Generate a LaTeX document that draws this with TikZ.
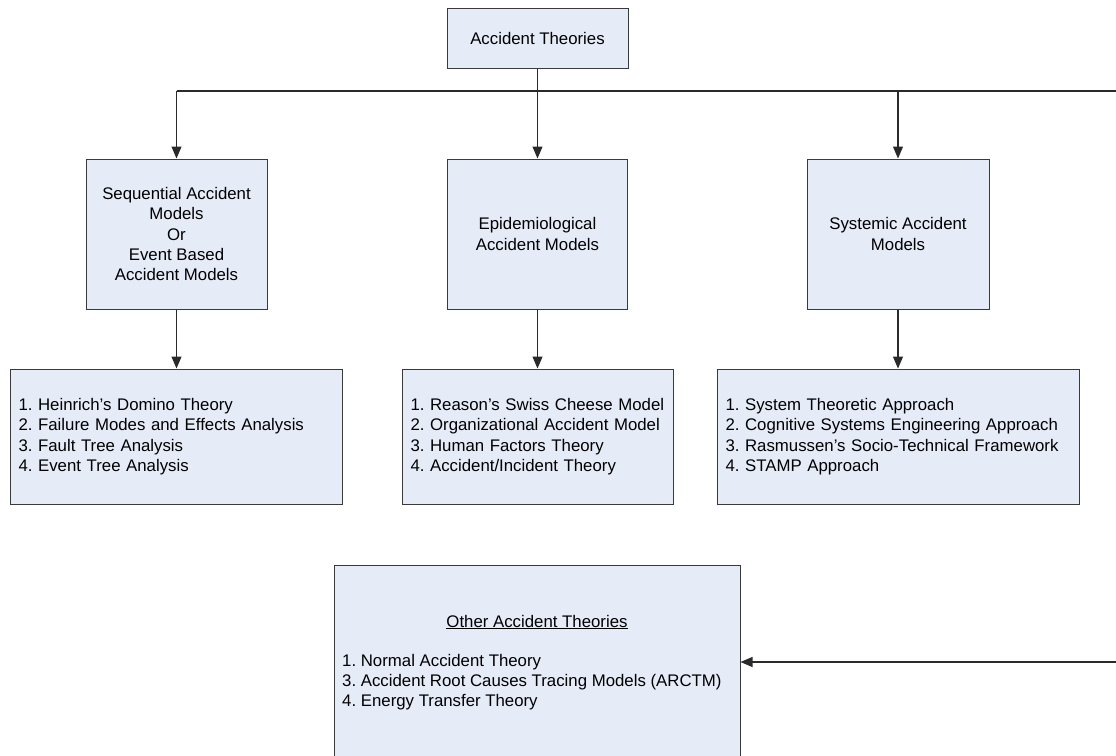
\documentclass[tikz,border=0pt]{standalone}
\usepackage{fontspec}
\setmainfont{Liberation Sans}
\usetikzlibrary{arrows.meta}
\definecolor{boxfill}{HTML}{E6ECF7}
\definecolor{boxline}{HTML}{3A3A3A}
\definecolor{wire}{HTML}{2A2A2A}
\frenchspacing

\begin{document}
\begin{tikzpicture}[x=1pt,y=-1pt,
  txt/.style={font=\fontsize{16.8}{20.3}\selectfont\frenchspacing},
  box/.style={draw=boxline, fill=boxfill, line width=1pt, inner sep=0pt,
    txt, align=center},
  listbox/.style={draw=boxline, fill=boxfill, line width=1pt, inner xsep=8.5pt,
    inner ysep=0pt, txt, align=left, minimum height=135pt},
  wireline/.style={draw=wire, line width=1.1pt},
  arr/.style={wireline, -{Triangle[length=12pt,width=10pt]}}]

\path[use as bounding box] (0,0) rectangle (1116,755);
\clip (0,0) rectangle (1116,755);

% root
\node[box, minimum width=181pt, minimum height=60pt] (root) at (537.5,38.5) {Accident Theories};

% model families
\node[box, minimum width=181pt, minimum height=150pt] (seq) at (176.5,234)
  {Sequential Accident\\Models\\Or\\Event Based\\Accident Models};
\node[box, minimum width=180pt, minimum height=150pt] (epi) at (537.5,234)
  {Epidemiological\\Accident Models};
\node[box, minimum width=182pt, minimum height=150pt] (sys) at (898,234)
  {Systemic Accident\\Models};

% lists of models
\node[listbox, text width=315pt] (seqlist) at (176,436.5)
  {1. Heinrich’s Domino Theory\\2. Failure Modes and Effects Analysis\\3. Fault Tree Analysis\\4. Event Tree Analysis};
\node[listbox, text width=254pt] (epilist) at (537.5,436.5)
  {\mbox{1. Reason’s Swiss Cheese Model}\\\mbox{2. Organizational Accident Model}\\3. Human Factors Theory\\4. Accident/Incident Theory};
\node[listbox, text width=345pt] (syslist) at (898,436.5)
  {1. System Theoretic Approach\\2. Cognitive Systems Engineering Approach\\3. Rasmussen’s Socio-Technical Framework\\4. STAMP Approach};

% other theories
\node[box, minimum width=406pt, minimum height=194pt] (other) at (537,662) {};
\node[txt, inner sep=0pt] (othertitle) at (537,622) {\underline{Other Accident Theories}};
\node[txt, inner sep=0pt, align=left, anchor=west] (otherlist) at (342,682)
  {1. Normal Accident Theory\\3. Accident Root Causes Tracing Models (ARCTM)\\4. Energy Transfer Theory};

% bus coordinates
\coordinate (busleft) at (176.5,91);
\coordinate (busright) at (1119,91);
\coordinate (loopcorner) at (1119,662);

% connectors
\draw[wireline] (busleft) -- (busright);
\draw[arr] (root.south) -- (epi.north);
\draw[arr] (busleft) -- (seq.north);
\draw[arr] (sys.north |- busright) -- (sys.north);
\draw[arr] (busright) -- (loopcorner) -- (other.east);
\draw[arr] (seq.south) -- (seq.south |- seqlist.north);
\draw[arr] (epi.south) -- (epi.south |- epilist.north);
\draw[arr] (sys.south) -- (sys.south |- syslist.north);
\end{tikzpicture}
\end{document}
